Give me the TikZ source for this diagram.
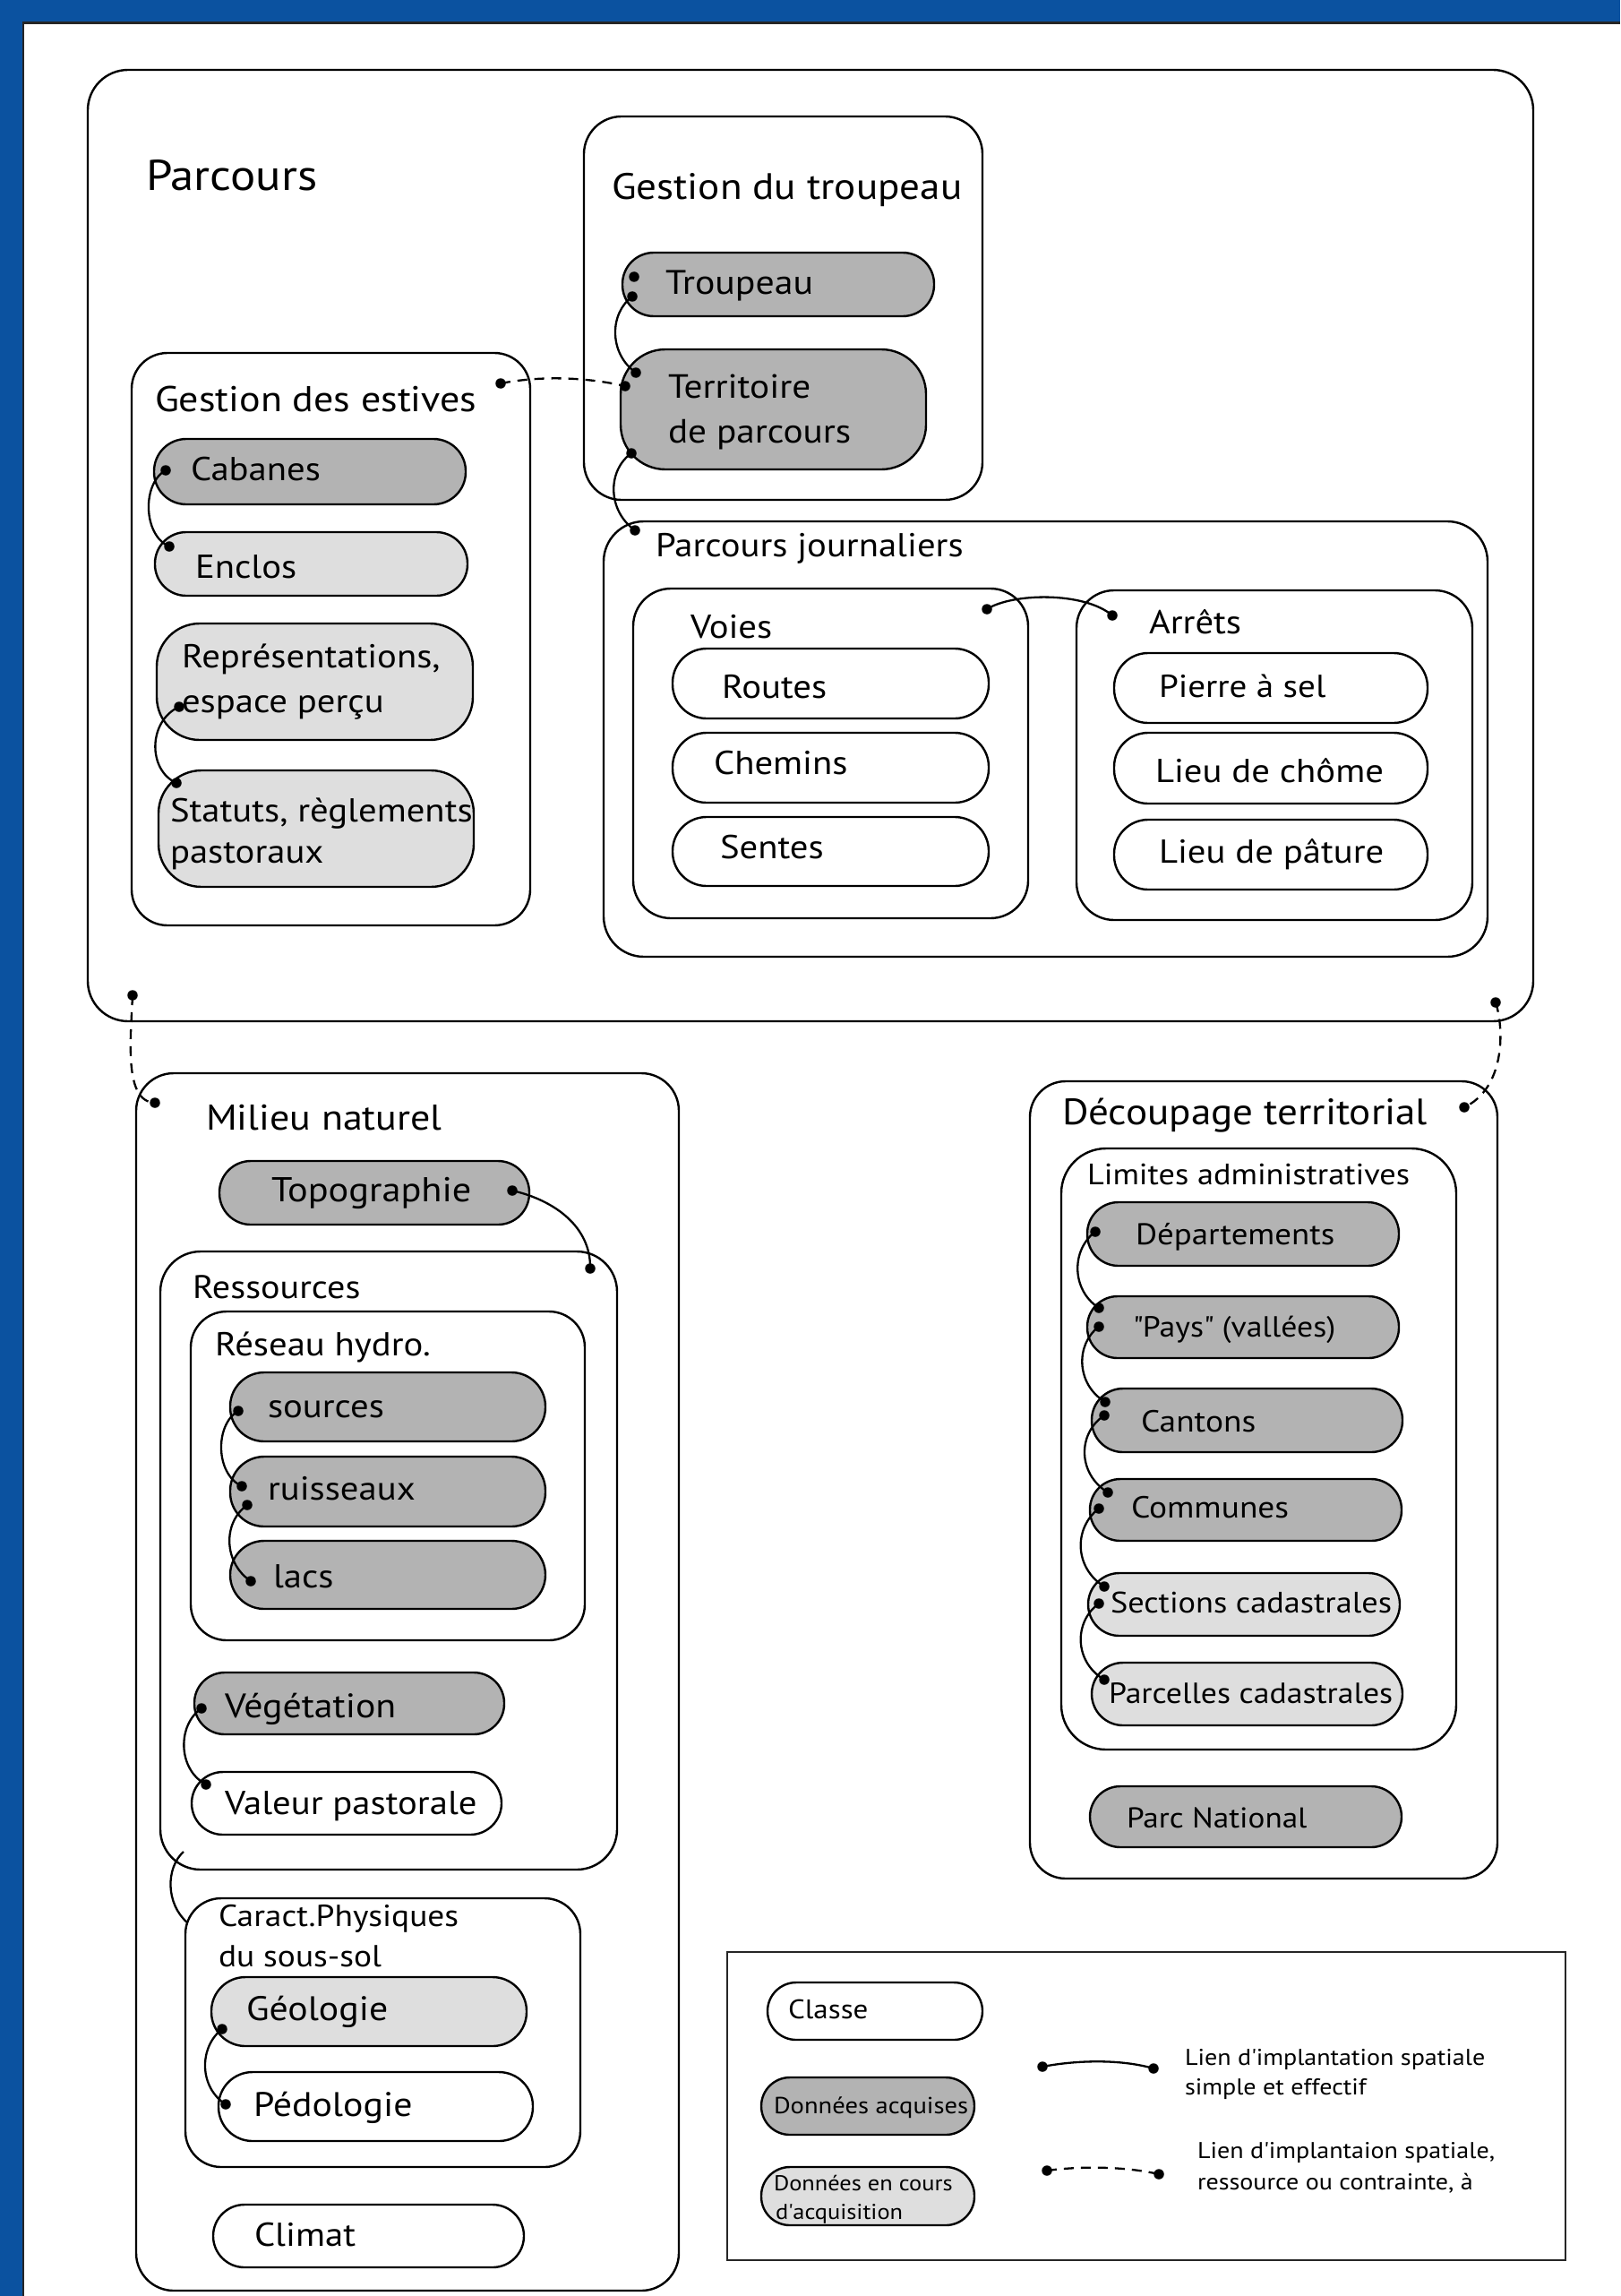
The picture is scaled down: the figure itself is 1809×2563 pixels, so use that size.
\documentclass[tikz,border=0pt]{standalone}
\usepackage{fontspec}
\setmainfont{PT Sans}[FakeStretch=1.1]
\definecolor{bandblue}{RGB}{11,82,160}
\definecolor{dkfill}{RGB}{179,179,179}
\definecolor{ltfill}{RGB}{222,222,222}
\newcommand\fs[1]{\fontsize{#1}{#1}\selectfont}
\tikzset{
 frame/.style={draw=black, line width=2.4pt, inner sep=0pt, outer sep=0pt},
 txt/.style={anchor=base west, inner sep=0pt, outer sep=0pt},
 dotn/.style={circle, fill=black, inner sep=0pt, minimum size=11.5pt},
 link/.style={line width=2.3pt},
 dlink/.style={line width=2.3pt, dash pattern=on 11pt off 8pt},
}
\newcommand\mkbox[7]{%
 \pgfmathsetmacro\bw{#4-#2}\pgfmathsetmacro\bh{#5-#3}%
 \pgfmathsetmacro\bx{(#2+#4)/2}\pgfmathsetmacro\by{(#3+#5)/2}%
 \node[frame, fill=#7, rounded corners=#6pt, minimum width=\bw pt, minimum height=\bh pt] (#1) at (\bx,\by) {};}
\newcommand\lbl[5]{\node[txt, font=#4] (#1) at (#2,#3) {#5};}
\begin{document}
\begin{tikzpicture}[x=1pt,y=-1pt]
\useasboundingbox (0,0) rectangle (1809,2563);
\fill[white] (0,0) rectangle (1809,2563);
% blue frame
\fill[bandblue] (0,0) rectangle (1809,25);
\fill[bandblue] (0,0) rectangle (25,2563);
\draw[line width=2.5pt, black!85] (26,2563) -- (26,25.5) -- (1809,25.5);

% ---------- containers
\mkbox{parcours}{98}{78}{1712}{1140}{45}{white}
\mkbox{gtr}{652}{130}{1097}{558}{42}{white}
\mkbox{ges}{147}{394}{592}{1033}{40}{white}
\mkbox{pj}{674}{582}{1661}{1068}{45}{white}
\mkbox{voi}{707}{657}{1148}{1025}{42}{white}
\mkbox{arr}{1202}{659}{1644}{1027}{42}{white}
\mkbox{mil}{152}{1198}{758}{2557}{42}{white}
\mkbox{res}{179}{1397}{689}{2087}{45}{white}
\mkbox{hyd}{213}{1464}{653}{1831}{40}{white}
\mkbox{car}{207}{2119}{648}{2419}{40}{white}
\mkbox{dec}{1150}{1207}{1672}{2097}{40}{white}
\mkbox{lim}{1185}{1282}{1626}{1953}{50}{white}
\node[frame, draw=black!85, line width=2.6pt, minimum width=936pt, minimum height=344pt] (leg) at (1280,2351) {};

% ---------- pills
\mkbox{cab}{172}{490}{520}{563}{36}{dkfill}
\mkbox{enc}{173}{594}{522}{665}{35}{ltfill}
\mkbox{rep}{175}{696}{528}{826}{48}{ltfill}
\mkbox{sta}{177}{860}{529}{990}{48}{ltfill}
\mkbox{trp}{695}{282}{1043}{353}{35}{dkfill}
\mkbox{ter}{693}{390}{1034}{524}{50}{dkfill}
\mkbox{rou}{751}{724}{1104}{802}{38}{white}
\mkbox{che}{751}{818}{1104}{896}{38}{white}
\mkbox{sen}{751}{912}{1104}{989}{38}{white}
\mkbox{pie}{1244}{729}{1594}{807}{38}{white}
\mkbox{cho}{1244}{818}{1594}{897}{38}{white}
\mkbox{pat}{1244}{915}{1594}{993}{38}{white}
\mkbox{topo}{245}{1296}{591}{1367}{35}{dkfill}
\mkbox{src}{257}{1532}{609}{1609}{38}{dkfill}
\mkbox{rui}{257}{1626}{609}{1704}{38}{dkfill}
\mkbox{lac}{257}{1720}{609}{1796}{38}{dkfill}
\mkbox{veg}{217}{1867}{563}{1936}{34}{dkfill}
\mkbox{val}{214}{1978}{560}{2048}{35}{white}
\mkbox{geo}{236}{2207}{588}{2284}{38}{ltfill}
\mkbox{ped}{244}{2313}{595}{2390}{38}{white}
\mkbox{cli}{238}{2461}{585}{2531}{35}{white}
\mkbox{dep}{1214}{1342}{1562}{1413}{35}{dkfill}
\mkbox{pay}{1214}{1447}{1562}{1516}{34}{dkfill}
\mkbox{can}{1219}{1550}{1566}{1621}{35}{dkfill}
\mkbox{com}{1217}{1651}{1565}{1720}{34}{dkfill}
\mkbox{sec}{1215}{1756}{1563}{1826}{35}{ltfill}
\mkbox{par}{1219}{1856}{1566}{1926}{35}{ltfill}
\mkbox{pn}{1217}{1994}{1565}{2062}{34}{dkfill}
\mkbox{lcl}{857}{2213}{1097}{2277}{32}{white}
\mkbox{lda}{850}{2319}{1088}{2383}{32}{dkfill}
\mkbox{ldc}{850}{2419}{1088}{2484}{32}{ltfill}

% ---------- texts
\lbl{t-parcours}{163}{213}{\fs{48}}{Parcours}
\lbl{t-gtr}{683}{223}{\fs{41}}{Gestion du troupeau}
\lbl{t-trp}{743}{328}{\fs{38}}{Troupeau}
\lbl{t-ter1}{746}{444}{\fs{37.5}}{Territoire}
\lbl{t-ter2}{746}{494}{\fs{37.5}}{de parcours}
\lbl{t-ges}{173}{459}{\fs{40}}{Gestion des estives}
\lbl{t-cab}{213}{536}{\fs{37}}{Cabanes}
\lbl{t-enc}{218}{645}{\fs{37}}{Enclos}
\lbl{t-rep1}{203}{745}{\fs{37}}{Représentations,}
\lbl{t-rep2}{203}{795}{\fs{37}}{espace perçu}
\lbl{t-sta1}{190}{917}{\fs{37}}{Statuts, règlements}
\lbl{t-sta2}{190}{963}{\fs{37}}{pastoraux}
\lbl{t-pj}{732}{621}{\fs{37}}{Parcours journaliers}
\lbl{t-voi}{771}{712}{\fs{37}}{Voies}
\lbl{t-arr}{1283}{707}{\fs{37}}{Arrêts}
\lbl{t-rou}{806}{779}{\fs{37}}{Routes}
\lbl{t-che}{797}{864}{\fs{37}}{Chemins}
\lbl{t-sen}{804}{958}{\fs{37}}{Sentes}
\lbl{t-pie}{1294}{778}{\fs{35.5}}{Pierre à sel}
\lbl{t-cho}{1290}{873}{\fs{37}}{Lieu de chôme}
\lbl{t-pat}{1294}{963}{\fs{37}}{Lieu de pâture}
\lbl{t-mil}{230}{1261}{\fs{40}}{Milieu naturel}
\lbl{t-topo}{303}{1341}{\fs{38.5}}{Topographie}
\lbl{t-res}{215}{1449}{\fs{36.5}}{Ressources}
\lbl{t-hyd}{240}{1513}{\fs{37}}{Réseau hydro.}
\lbl{t-src}{299}{1582}{\fs{37}}{sources}
\lbl{t-rui}{299}{1674}{\fs{37}}{ruisseaux}
\lbl{t-lac}{305}{1772}{\fs{37}}{lacs}
\lbl{t-veg}{251}{1917}{\fs{38}}{Végétation}
\lbl{t-val}{251}{2025}{\fs{37}}{Valeur pastorale}
\lbl{t-car1}{244}{2150}{\fs{34}}{Caract.Physiques}
\lbl{t-car2}{244}{2195}{\fs{34}}{du sous-sol}
\lbl{t-geo}{275}{2255}{\fs{38}}{Géologie}
\lbl{t-ped}{283}{2362}{\fs{38}}{Pédologie}
\lbl{t-cli}{284}{2507}{\fs{37}}{Climat}
\lbl{t-dec}{1186}{1255}{\fs{41}}{Découpage territorial}
\lbl{t-lim}{1214}{1322}{\fs{33}}{Limites administratives}
\lbl{t-dep}{1268}{1389}{\fs{33.5}}{Départements}
\lbl{t-pay}{1265}{1492}{\fs{32.5}}{\textquotedbl Pays\textquotedbl\ (vallées)}
\lbl{t-can}{1274}{1598}{\fs{34}}{Cantons}
\lbl{t-com}{1263}{1694}{\fs{34}}{Communes}
\lbl{t-sec}{1240}{1800}{\fs{33}}{Sections cadastrales}
\lbl{t-par}{1238}{1901}{\fs{32.5}}{Parcelles cadastrales}
\lbl{t-pn}{1258}{2040}{\fs{32}}{Parc National}
\lbl{t-lcl}{880}{2253}{\fs{30}}{Classe}
\lbl{t-lda}{864}{2359}{\fs{26}}{Données acquises}
\lbl{t-ldc1}{864}{2445}{\fs{24}}{Données en cours}
\lbl{t-ldc2}{866}{2477}{\fs{24}}{d\textquotesingle acquisition}
\lbl{t-l1a}{1323}{2305}{\fs{25.5}}{Lien d\textquotesingle implantation spatiale}
\lbl{t-l1b}{1323}{2338}{\fs{25.5}}{simple et effectif}
\lbl{t-l2a}{1337}{2409}{\fs{25.5}}{Lien d\textquotesingle implantaion spatiale,}
\lbl{t-l2b}{1337}{2444}{\fs{25.5}}{ressource ou contrainte, à}

% ---------- dots
\foreach \n/\x/\y in {d1/185/525, d2/189/610, d3/200/789, d4/197/874,
  d5/559/428, d6/698/431, d7/708/309, d8/706/331, d9/710/416,
  d10/705/506, d11/709/592, d12/1102/680, d13/1242/687,
  d14/148/1111, d15/173/1231, d16/1670/1119, d17/1635/1236,
  d18/572/1329, d19/659/1416, d20/266/1575, d21/270/1659,
  d22/276/1680, d23/280/1765, d24/225/1907, d25/230/1992,
  d26/248/2265, d27/252/2349, d28/1223/1375, d29/1227/1460,
  d30/1227/1481, d31/1234/1565, d32/1233/1580, d33/1237/1666,
  d34/1227/1684, d35/1233/1771, d36/1227/1790, d37/1233/1875,
  d38/1164/2307, d39/1288/2309, d40/1169/2423, d41/1294/2427}
  {\node[dotn] (\n) at (\x,\y) {};}
\coordinate (c1) at (205,2067);
\coordinate (c2) at (209,2146);

% ---------- connectors
\draw[link] (d1.center) .. controls (158,540) and (160,598) .. (d2.center);
\draw[link] (d3.center) .. controls (165,805) and (165,860) .. (d4.center);
\draw[dlink] (d5.center) .. controls (600,420) and (650,420) .. (d6.center);
\draw[link] (d8.center) .. controls (680,350) and (680,395) .. (d9.center);
\draw[link] (d10.center) .. controls (678,525) and (678,570) .. (d11.center);
\draw[link] (d12.center) .. controls (1130,662) and (1210,660) .. (d13.center);
\draw[dlink] (d14.center) .. controls (146,1160) and (138,1230) .. (d15.center);
\draw[dlink] (d16.center) .. controls (1680,1150) and (1680,1215) .. (d17.center);
\draw[link] (d18.center) .. controls (620,1340) and (660,1370) .. (d19.center);
\draw[link] (d20.center) .. controls (240,1590) and (240,1645) .. (d21.center);
\draw[link] (d22.center) .. controls (248,1700) and (250,1745) .. (d23.center);
\draw[link] (d24.center) .. controls (198,1925) and (198,1975) .. (d25.center);
\draw[link] (c1) .. controls (185,2085) and (185,2125) .. (c2);
\draw[link] (d26.center) .. controls (222,2285) and (222,2330) .. (d27.center);
\draw[link] (d28.center) .. controls (1196,1395) and (1196,1440) .. (d29.center);
\draw[link] (d30.center) .. controls (1201,1500) and (1201,1545) .. (d31.center);
\draw[link] (d32.center) .. controls (1203,1600) and (1203,1645) .. (d33.center);
\draw[link] (d34.center) .. controls (1199,1705) and (1199,1750) .. (d35.center);
\draw[link] (d36.center) .. controls (1199,1810) and (1199,1855) .. (d37.center);
\draw[link] (d38.center) .. controls (1200,2300) and (1250,2298) .. (d39.center);
\draw[dlink] (d40.center) .. controls (1205,2418) and (1255,2418) .. (d41.center);
\end{tikzpicture}
\end{document}
